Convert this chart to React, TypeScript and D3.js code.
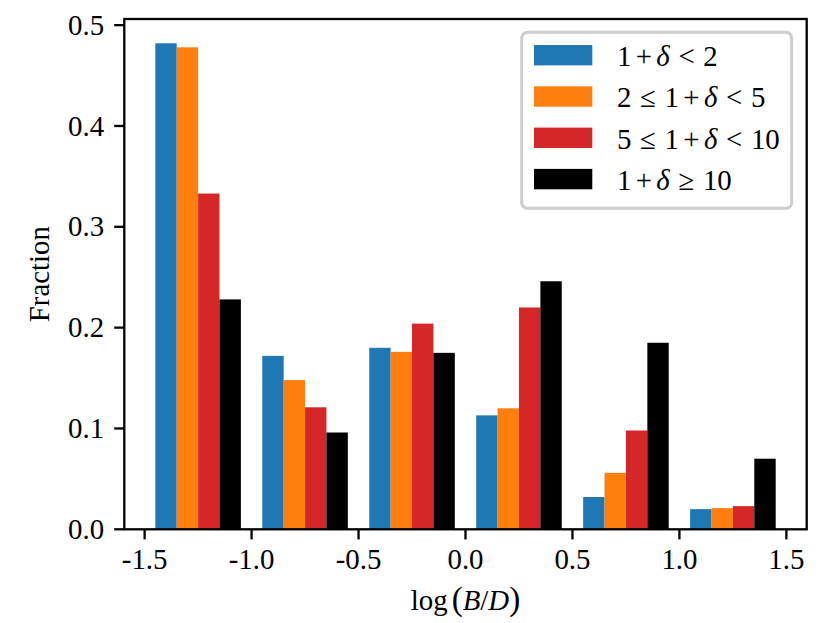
import React from "react";
import * as d3 from "d3";

const binEdges = [-1.5, -1.0, -0.5, 0.0, 0.5, 1.0, 1.5];
const seriesA = [0.482, 0.172, 0.180, 0.113, 0.032, 0.020];
const seriesB = [0.478, 0.148, 0.176, 0.120, 0.056, 0.021];
const seriesC = [0.333, 0.121, 0.204, 0.220, 0.098, 0.023];
const seriesD = [0.228, 0.096, 0.175, 0.246, 0.185, 0.070];
const xTicks = [-1.5, -1.0, -0.5, 0.0, 0.5, 1.0, 1.5];
const xTickLabels = ["-1.5", "-1.0", "-0.5", "0.0", "0.5", "1.0", "1.5"];
const yTicks = [0.0, 0.1, 0.2, 0.3, 0.4, 0.5];
const yTickLabels = ["0.0", "0.1", "0.2", "0.3", "0.4", "0.5"];

type Tok = { t: string; it?: boolean; op?: "bin" | "rel" };
const legendLabels: Tok[][] = [
  [{ t: "1" }, { t: "+", op: "bin" }, { t: "δ", it: true }, { t: "<", op: "rel" }, { t: "2" }],
  [{ t: "2" }, { t: "≤", op: "rel" }, { t: "1" }, { t: "+", op: "bin" }, { t: "δ", it: true }, { t: "<", op: "rel" }, { t: "5" }],
  [{ t: "5" }, { t: "≤", op: "rel" }, { t: "1" }, { t: "+", op: "bin" }, { t: "δ", it: true }, { t: "<", op: "rel" }, { t: "10" }],
  [{ t: "1" }, { t: "+", op: "bin" }, { t: "δ", it: true }, { t: "≥", op: "rel" }, { t: "10" }],
];
const colors = ["#1f77b4", "#ff7f0e", "#d62728", "#000000"];
const allSeries = [seriesA, seriesB, seriesC, seriesD];

const W = 831;
const H = 623;
const FS = 28.85;
const FONT = "'Liberation Serif', 'Times New Roman', serif";

const left = 124.3, right = 806.7, top = 19, bottom = 529.3;
const lw = 2.3;

export default function App() {
  const ymax = d3.max(allSeries.flat())! * 1.05;
  const x = d3.scaleLinear().domain([-1.595, 1.595]).range([left, right]);
  const y = d3.scaleLinear().domain([0, ymax]).range([bottom, top]);
  const binW = binEdges[1] - binEdges[0];
  const barW = (binW * 0.8) / allSeries.length;

  const bars: React.ReactNode[] = [];
  allSeries.forEach((s, si) => {
    s.forEach((v, bi) => {
      const x0 = binEdges[bi] + binW * 0.1 + si * barW;
      bars.push(
        <rect
          key={`b${si}-${bi}`}
          x={x(x0)}
          y={y(v)}
          width={x(x0 + barW) - x(x0)}
          height={y(0) - y(v)}
          fill={colors[si]}
        />
      );
    });
  });

  const renderTokens = (toks: Tok[]) => {
    const med = FS * 0.15;
    const thick = FS * 0.3;
    const out: React.ReactNode[] = [];
    let pending = 0;
    toks.forEach((tk, i) => {
      let pre = pending;
      let post = 0;
      if (tk.op === "bin") { pre += med; post = med; }
      if (tk.op === "rel") { pre += thick; post = thick; }
      out.push(
        <tspan key={i} dx={i === 0 ? 0 : pre} fontStyle={tk.it ? "italic" : "normal"}>
          {tk.t}
        </tspan>
      );
      pending = post;
    });
    return out;
  };

  const legX = 521.7, legY = 32.3, legW = 270, legH = 176;
  const rowH = 41.3;

  return (
    <svg
      width={W}
      height={H}
      style={{ position: "absolute", left: 0, top: 0, background: "#fff" }}
      fontFamily={FONT}
    >
      <rect x={0} y={0} width={W} height={H} fill="#fff" />
      {bars}
      <rect x={left} y={top} width={right - left} height={bottom - top} fill="none" stroke="#000" strokeWidth={lw} strokeLinejoin="miter" />
      {xTicks.map((t, i) => (
        <g key={`xt${i}`}>
          <line x1={x(t)} x2={x(t)} y1={bottom} y2={bottom + 10.1} stroke="#000" strokeWidth={lw} />
          <text x={x(t)} y={bottom + 10.1 + 10.1 + 0.69 * FS} fontSize={FS} textAnchor="middle">
            {xTickLabels[i]}
          </text>
        </g>
      ))}
      {yTicks.map((t, i) => (
        <g key={`yt${i}`}>
          <line x1={left - 10.1} x2={left} y1={y(t)} y2={y(t)} stroke="#000" strokeWidth={lw} />
          <text x={left - 10.1 - 10.1} y={y(t) + 0.33 * FS} fontSize={FS} textAnchor="end">
            {yTickLabels[i]}
          </text>
        </g>
      ))}
      <text x={(left + right) / 2} y={610} fontSize={FS} textAnchor="middle">
        <tspan>log</tspan>
        <tspan dx={4} fontSize={FS * 1.15}>(</tspan>
        <tspan fontStyle="italic">B</tspan>
        <tspan>/</tspan>
        <tspan fontStyle="italic">D</tspan>
        <tspan fontSize={FS * 1.15}>)</tspan>
      </text>
      <text transform={`translate(49, ${(top + bottom) / 2}) rotate(-90)`} fontSize={FS} textAnchor="middle">
        Fraction
      </text>
      <g>
        <rect x={legX} y={legY} width={legW} height={legH} rx={5.8} ry={5.8} fill="#fff" fillOpacity={0.8} stroke="#cccccc" strokeWidth={2.9} />
        {legendLabels.map((lab, i) => (
          <g key={`lg${i}`}>
            <rect x={534} y={45 + i * rowH} width={58.3} height={20.4} fill={colors[i]} />
            <text x={617} y={66 + i * rowH} fontSize={FS}>
              {renderTokens(lab)}
            </text>
          </g>
        ))}
      </g>
    </svg>
  );
}
